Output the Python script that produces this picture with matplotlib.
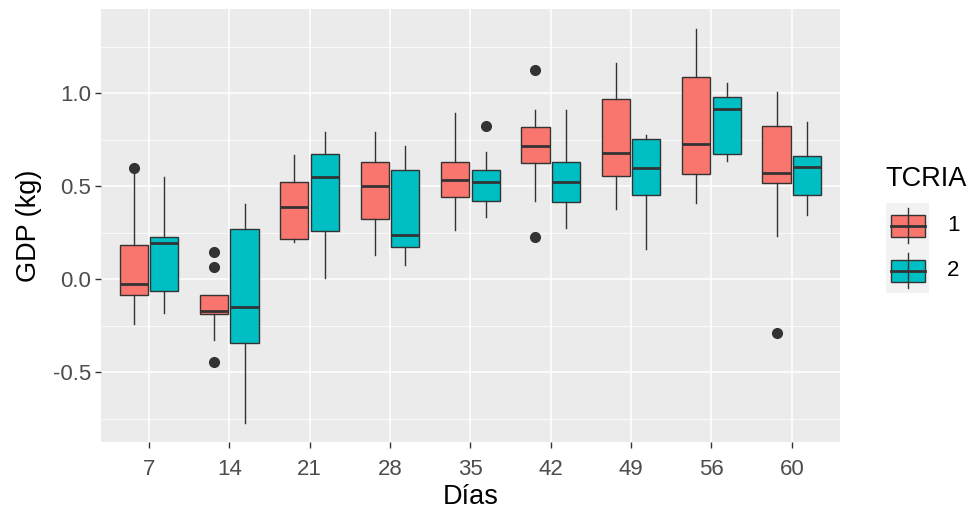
import matplotlib.pyplot as plt
from matplotlib.patches import Rectangle

plt.rcParams['font.family'] = ['Liberation Sans', 'DejaVu Sans']

# categories (Días) and legend groups
dias = ['7', '14', '21', '28', '35', '42', '49', '56', '60']
grupos = ['1', '2']
colores = {'1': '#F8766D', '2': '#00BFC4'}

# box statistics, one value per day
# TCRIA 1
t1_low = [-0.24, -0.325, 0.203, 0.132, 0.266, 0.420, 0.379, 0.410, 0.234]
t1_q1 = [-0.083, -0.187, 0.216, 0.327, 0.442, 0.628, 0.558, 0.569, 0.517]
t1_med = [-0.024, -0.168, 0.388, 0.503, 0.533, 0.719, 0.678, 0.728, 0.574]
t1_q3 = [0.185, -0.083, 0.526, 0.630, 0.630, 0.818, 0.972, 1.087, 0.827]
t1_high = [0.585, -0.083, 0.668, 0.791, 0.893, 0.913, 1.162, 1.347, 1.006]
t1_out = [[0.598], [0.146, 0.069, -0.442], [], [], [], [1.126, 0.227], [], [], [-0.289]]
# TCRIA 2
t2_low = [-0.182, -0.770, 0.006, 0.078, 0.338, 0.275, 0.162, 0.637, 0.347]
t2_q1 = [-0.062, -0.343, 0.261, 0.173, 0.422, 0.415, 0.454, 0.673, 0.453]
t2_med = [0.195, -0.148, 0.553, 0.238, 0.524, 0.522, 0.598, 0.917, 0.606]
t2_q3 = [0.230, 0.270, 0.673, 0.589, 0.589, 0.630, 0.755, 0.983, 0.664]
t2_high = [0.553, 0.406, 0.791, 0.719, 0.685, 0.913, 0.777, 1.058, 0.848]
t2_out = [[], [], [], [], [0.827], [], [], [], []]

series = {
    '1': (t1_low, t1_q1, t1_med, t1_q3, t1_high, t1_out),
    '2': (t2_low, t2_q1, t2_med, t2_q3, t2_high, t2_out),
}

W, H = 974, 514
fig = plt.figure(figsize=(W / 100, H / 100), dpi=100)
ax = fig.add_axes([100.7 / W, 1 - 442 / H, (840 - 100.7) / W, (442 - 9) / H])
ax.set_facecolor('#EBEBEB')
for s in ax.spines.values():
    s.set_visible(False)

edge = '#333333'
offsets = {'1': -0.19, '2': 0.19}
for g in grupos:
    low, q1, med, q3, high, out = series[g]
    stats = []
    for i in range(len(dias)):
        stats.append({'whislo': low[i], 'q1': q1[i], 'med': med[i], 'q3': q3[i],
                      'whishi': high[i], 'fliers': out[i]})
    pos = [i + 1 + offsets[g] for i in range(len(dias))]
    ax.bxp(stats, positions=pos, widths=0.35, patch_artist=True, showcaps=False,
           boxprops=dict(facecolor=colores[g], edgecolor=edge, linewidth=1.0),
           medianprops=dict(color=edge, linewidth=2.0, solid_capstyle='butt'),
           whiskerprops=dict(color=edge, linewidth=1.0),
           flierprops=dict(marker='o', markerfacecolor=edge, markeredgecolor=edge,
                           markersize=7),
           zorder=3, manage_ticks=False)

ax.set_xlim(0.4, len(dias) + 0.6)
ax.set_ylim(-0.874, 1.454)
ax.set_xticks(range(1, len(dias) + 1))
ax.set_xticklabels(dias)
ax.set_yticks([-0.5, 0.0, 0.5, 1.0])
ax.set_yticklabels(['-0.5', '0.0', '0.5', '1.0'])
ax.set_yticks([-0.75, -0.25, 0.25, 0.75, 1.25], minor=True)
ax.grid(True, which='major', color='white', linewidth=1.1, zorder=0)
ax.grid(True, which='minor', axis='y', color='white', linewidth=0.55, zorder=0)
ax.set_axisbelow(True)
ax.tick_params(axis='both', which='major', length=4, width=1.0, color=edge,
               labelcolor='#4D4D4D', labelsize=16)
ax.tick_params(axis='x', which='major', pad=8)
ax.tick_params(axis='y', which='major', pad=3)
ax.tick_params(axis='y', which='minor', length=0)
ax.set_xlabel('Días', fontsize=19.5, color='black', labelpad=3)
ax.set_ylabel('GDP (kg)', fontsize=19.5, color='black', labelpad=8)

# legend drawn in figure pixel space
lg = fig.add_axes([0, 0, 1, 1], zorder=5)
lg.set_xlim(0, W)
lg.set_ylim(H, 0)
lg.axis('off')
lg.text(885, 179, 'TCRIA', fontsize=19.5, va='center', ha='left', color='black')
keys = [(203, 248, '1'), (248, 293, '2')]
for top, bot, g in keys:
    lg.add_patch(Rectangle((886, top), 43, bot - top, facecolor='#F2F2F2', edgecolor='none'))
    cx = 908
    cy = (top + bot) / 2
    lg.plot([cx, cx], [top + 5, bot - 5], color=edge, lw=1.0)
    lg.add_patch(Rectangle((891, cy - 11), 34, 22, facecolor=colores[g], edgecolor=edge, lw=1.0))
    lg.plot([891, 925], [cy, cy], color=edge, lw=2.0)
    lg.text(947, cy, g, fontsize=16, va='center', ha='left', color='black')

fig.savefig('out.png', dpi=100)
